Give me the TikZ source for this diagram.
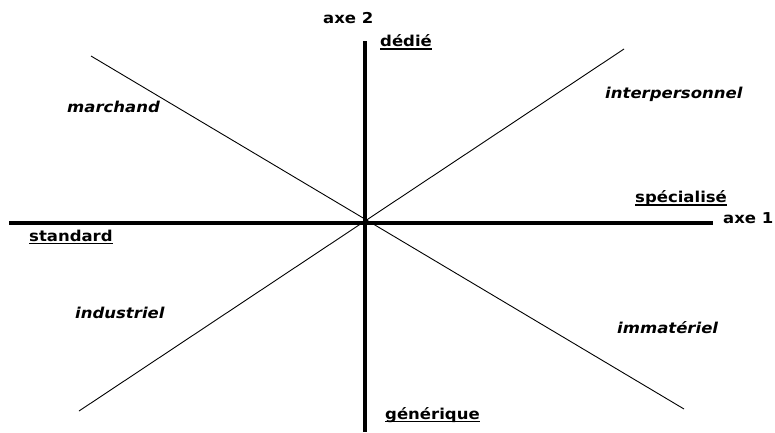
\documentclass[tikz,border=0pt]{standalone}
\usepackage{fontspec}
\setmainfont{DejaVu Sans}[FakeStretch=1.1]
\begin{document}
\begin{tikzpicture}[x=1pt,y=-1pt,
  axis/.style={line width=4pt},
  diag/.style={line width=0.9pt},
  lab/.style={anchor=base west,inner sep=0pt,font=\fontsize{15}{18}\selectfont\bfseries},
  ilab/.style={lab,font=\fontsize{15}{18}\selectfont\bfseries\itshape},
  uline/.style={line width=1.1pt}]
\useasboundingbox[fill=white] (0,0) rectangle (775,432);
% axes
\coordinate (hL) at (9,222.5);
\coordinate (hR) at (713,222.5);
\coordinate (vT) at (365,41);
\coordinate (vB) at (365,432);
\coordinate (d1a) at (91,56);
\coordinate (d1b) at (684,409);
\coordinate (d2a) at (79,411);
\coordinate (d2b) at (624,49);
\draw[diag] (d1a) -- (d1b);
\draw[diag] (d2a) -- (d2b);
\draw[axis] (hL) -- (hR);
\draw[axis] (vT) -- (vB);
% labels
\node[lab] (ax2) at (323,23.5) {axe 2};
\node[lab] (ax1) at (723,223) {axe 1};
\node[lab] (dedie) at (380,46.5) {dédié};
\node[lab] (std) at (29,241) {standard};
\node[lab] (spec) at (635,202.5) {spécialisé};
\node[lab] (gen) at (385,419) {générique};
\node[ilab] (mar) at (67,112) {marchand};
\node[ilab] (inter) at (605,98) {interpersonnel};
\node[ilab] (ind) at (75,318) {industriel};
\node[ilab] (imm) at (617,333) {immatériel};
% underlines
\foreach \n in {dedie,std,spec,gen}
  \draw[uline] ([yshift=-2.5pt]\n.base west) -- ([yshift=-2.5pt]\n.base east);
\end{tikzpicture}
\end{document}
